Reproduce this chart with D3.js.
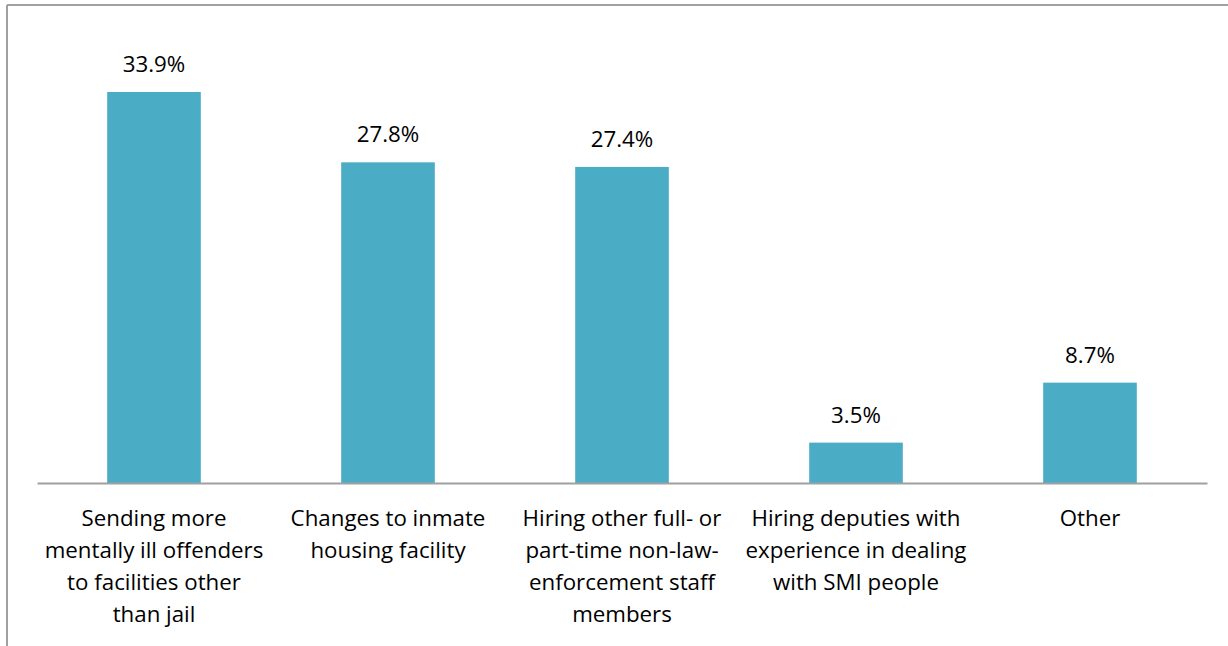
<!DOCTYPE html>
<html>
<head>
<meta charset="utf-8">
<script src="https://cdn.jsdelivr.net/npm/d3@7"></script>
<style>
  html, body { margin: 0; padding: 0; background: #fff; }
  svg { display: block; }
  text { font-family: "Open Sans", sans-serif; fill: #000; }
</style>
</head>
<body>
<svg id="chart" width="1228" height="646"></svg>
<script>
const categories = [
  "Sending more\nmentally ill offenders\nto facilities other\nthan jail",
  "Changes to inmate\nhousing facility",
  "Hiring other full- or\npart-time non-law-\nenforcement staff\nmembers",
  "Hiring deputies with\nexperience in dealing\nwith SMI people",
  "Other"
];
const values = [33.9, 27.8, 27.4, 3.5, 8.7];
const valueLabels = ["33.9%", "27.8%", "27.4%", "3.5%", "8.7%"];

const svg = d3.select("#chart");
const W = 1228, H = 646;
const FONT = "'Open Sans', sans-serif";
const FS = 22.3;

// outer frame (top and left edges visible)
svg.append("line").attr("x1", 7).attr("x2", W).attr("y1", 5).attr("y2", 5)
  .attr("stroke", "#a0a0a0").attr("stroke-width", 2);
svg.append("line").attr("x1", 7).attr("x2", 7).attr("y1", 5).attr("y2", H)
  .attr("stroke", "#a0a0a0").attr("stroke-width", 2);

const x = d3.scaleBand().domain(d3.range(categories.length))
  .range([37, 1207]).paddingInner(0.6).paddingOuter(0.3);
const y = d3.scaleLinear().domain([0, 40]).range([483, 21.6]);

svg.append("g").selectAll("rect").data(values).join("rect")
  .attr("x", (d, i) => x(i))
  .attr("width", x.bandwidth())
  .attr("y", d => y(d))
  .attr("height", d => y(0) - y(d))
  .attr("fill", "#4bacc6");

svg.append("g").selectAll("text").data(values).join("text")
  .attr("x", (d, i) => x(i) + x.bandwidth() / 2)
  .attr("y", d => y(d) - 20)
  .attr("text-anchor", "middle")
  .attr("font-family", FONT)
  .attr("font-size", FS)
  .text((d, i) => valueLabels[i]);

const axis = d3.axisBottom(x).tickSize(0).tickSizeOuter(0).tickFormat(i => categories[i]);
const gx = svg.append("g").attr("transform", `translate(0,${y(0)})`).call(axis);
gx.select(".domain").attr("stroke", "#a0a0a0").attr("stroke-width", 2);
gx.selectAll(".tick text").each(function(i) {
  const t = d3.select(this);
  const lines = categories[i].split("\n");
  t.text(null).attr("y", 0).attr("dy", null).attr("font-size", FS)
   .attr("font-family", FONT).attr("fill", "#000");
  lines.forEach((ln, k) => {
    t.append("tspan").attr("x", 0).attr("y", 43 + k * 32).text(ln);
  });
});
</script>
</body>
</html>
